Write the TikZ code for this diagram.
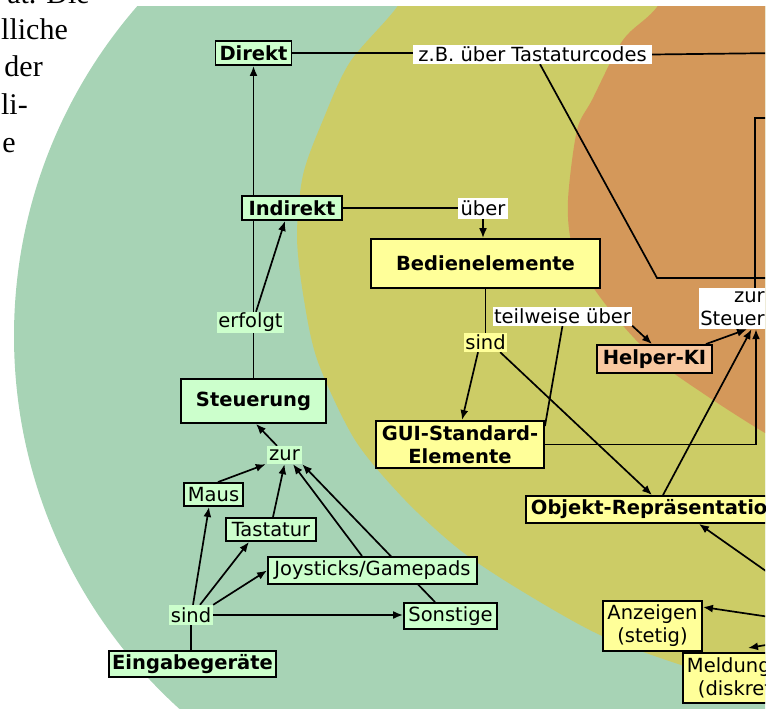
\documentclass[tikz,border=0pt]{standalone}
\usepackage{fontspec}
\newfontfamily\dv{DejaVu Sans}
\newfontfamily\pagefont{Liberation Serif}
\usetikzlibrary{arrows.meta,calc}
\definecolor{bggreen}{HTML}{A7D3B5}
\definecolor{bgyellow}{HTML}{CCCC66}
\definecolor{bgorange}{HTML}{D4985A}
\definecolor{ngreen}{HTML}{CCFFCC}
\definecolor{nyellow}{HTML}{FFFF99}
\definecolor{norange}{HTML}{F8C8A0}
\pgfdeclarelayer{back}
\pgfdeclarelayer{edges}
\pgfsetlayers{back,edges,main}
\tikzset{
  every node/.style={font=\dv\fontsize{19.5}{23}\selectfont, inner sep=0pt, text=black},
  sz/.style n args={2}{minimum width=#1pt, minimum height=#2pt},
  nbox/.style={draw=black, line width=1.9pt, align=center},
  gbox/.style={nbox, fill=ngreen},
  ybox/.style={nbox, fill=nyellow},
  obox/.style={nbox, fill=norange},
  lab/.style={align=center},
  conn/.style={draw=black, line width=1.7pt},
  arr/.style={conn, -{Latex[length=10pt,width=8pt]}},
  pagetext/.style={anchor=base east, font=\pagefont\fontsize{30}{30}\selectfont}
}
\begin{document}
\begin{tikzpicture}[x=1pt,y=-1pt]
\useasboundingbox (0,0) rectangle (779,709);
% background regions
\begin{pgfonlayer}{back}
\begin{scope}
\clip (0,7) rectangle (765,709);
\fill[bggreen] (517,336) circle[radius=503pt];
\fill[bgyellow] plot[smooth cycle] coordinates {(440,-60) (397,7) (350,62) (323,120) (303,175) (297,237) (304,300) (318,362) (355,440) (405,500) (460,550) (520,590) (600,635) (687,667) (765,690) (830,700) (900,500) (900,100) (800,-60)};
\fill[bgorange] plot[smooth cycle] coordinates {(700,-60) (657,7) (623,40) (592,100) (577,130) (568,200) (572,245) (593,287) (625,328) (660,363) (713,400) (765,433) (830,470) (900,300) (880,-60)};
\end{scope}
\end{pgfonlayer}
% page text fragments
\begin{scope}
\clip (0,0) rectangle (779,709);
\node[pagetext] (p1) at (90,4) {at. Die};
\node[pagetext] (p2) at (68,39.5) {lliche};
\node[pagetext] (p3) at (43,77) {der};
\node[pagetext] (p4) at (28,114.5) {li-};
\node[pagetext] (p5) at (16,152) {e};
\end{scope}
% nodes
\begin{scope}
\clip (0,7) rectangle (765,709);
\node[gbox, sz={76}{24}] (direkt) at (253.5,53) {\bfseries Direkt};
\node[gbox, sz={100}{24}] (indirekt) at (292,208) {\bfseries Indirekt};
\node[gbox, sz={145}{44}] (steuerung) at (253.5,401) {\bfseries Steuerung};
\node[gbox, sz={59}{23}] (maus) at (213.5,494.5) {Maus};
\node[gbox, sz={90}{23}] (tastatur) at (271,529.5) {Tastatur};
\node[gbox, sz={209}{27}] (joystick) at (372.5,570.5) {Joysticks/Gamepads};
\node[gbox, sz={93}{26}] (sonstige) at (450.5,616) {Sonstige};
\node[gbox, sz={167}{26}] (eingabe) at (192.5,664) {\bfseries Eingabegeräte};
\node[ybox, sz={229}{49}] (bedien) at (485.5,263.5) {\bfseries Bedienelemente};
\node[ybox, sz={168}{47}, font=\dv\bfseries\fontsize{19.5}{23}\selectfont] (gui) at (460,444.5) {GUI-Standard-\\Elemente};
\node[obox, sz={115}{28}] (helper) at (654.5,359) {\bfseries Helper-KI};
\node[ybox, anchor=west, text width=270pt, align=left, inner xsep=5pt, minimum height=27pt] (objekt) at (525,509.5) {\bfseries Objekt-Repräsentatio};
\node[ybox, sz={99}{50}] (anzeigen) at (652.5,626) {Anzeigen\\(stetig)};
\node[ybox, anchor=north west, text width=110pt, align=left, inner xsep=4pt, minimum height=50pt] (meldung) at (682,652) {Meldung\\\hspace*{11pt}(diskret};
% labels
\node[lab, fill=white, sz={239}{19}] (zb) at (532.5,54.5) {z.B. über Tastaturcodes};
\node[lab, fill=white, sz={50}{21}] (ueber) at (483,208.5) {über};
\node[lab, fill=ngreen, sz={67}{21}] (erfolgt) at (250.5,322.5) {erfolgt};
\node[lab, fill=ngreen, sz={35}{18}] (zur) at (284.5,455) {zur};
\node[lab, fill=ngreen, sz={44}{20}] (sindg) at (191,615) {sind};
\node[lab, fill=nyellow, sz={43}{19}] (sindy) at (485.5,342.5) {sind};
\node[lab, fill=white, sz={139}{19}] (teilweise) at (562.5,316) {teilweise über};
\node[fill=white, align=right, sz={67}{41}] (zursteuer) at (732.5,308.5) {zur\\Steuer};
\end{scope}
% free ends
\coordinate (zbR) at (780,53);
\coordinate (k1) at (657,278);
\coordinate (k2) at (780,278);
\coordinate (topR) at (780,118);
\coordinate (inO) at (790,588);
\coordinate (inA) at (790,620);
\coordinate (inM) at (790,641);
% connectors
\begin{pgfonlayer}{edges}
\begin{scope}
\clip (0,7) rectangle (765,709);
\draw[conn] (direkt.east) -- (direkt.east -| zb.west);
\draw[conn] (zb.east) -- (zbR);
\draw[conn] ([xshift=7.5pt]zb.south) -- (k1) -- (k2);
\draw[conn] (indirekt.east) -- (indirekt.east -| ueber.west);
\draw[arr] (ueber.south) -- (ueber.south |- bedien.north);
\draw[conn] (steuerung.north) -- (steuerung.north |- erfolgt.south);
\draw[arr] (steuerung.north |- erfolgt.north) -- (direkt.south);
\draw[arr] ([xshift=5.5pt]erfolgt.north) -- ([xshift=-7pt]indirekt.south);
\draw[arr] ([xshift=-7.5pt]zur.north) -- ([xshift=2.5pt]steuerung.south);
\draw[arr] ([xshift=4.5pt]maus.north) -- ([xshift=-1pt]zur.south west);
\draw[arr] ([xshift=2pt]tastatur.north) -- (zur.south);
\draw[arr] ([xshift=-10.5pt]joystick.north) -- ([xshift=8.5pt]zur.south);
\draw[arr] ([xshift=-15.5pt]sonstige.north) -- (zur.south east);
\draw[conn] (sindg.south) -- (sindg.south |- eingabe.north);
\draw[arr] ([xshift=2pt]sindg.north) -- ([xshift=-4.5pt]maus.south);
\draw[arr] ([xshift=9pt]sindg.north) -- ([xshift=-22pt]tastatur.south);
\draw[arr] (sindg.north east) -- (joystick.west);
\draw[arr] (sindg.east) -- (sindg.east -| sonstige.west);
\draw[conn] (bedien.south) -- (bedien.south |- sindy.north);
\draw[arr] ([xshift=-7.5pt]sindy.south) -- ([xshift=2pt]gui.north);
\draw[arr] ([xshift=-7pt]sindy.south east) -- ([xshift=127pt]objekt.north west);
\draw[conn] ([yshift=-6pt]gui.north east) -- (teilweise.south);
\draw[arr] (teilweise.south east) -- ([xshift=-2.5pt]helper.north);
\draw[arr] ([xshift=-7pt]helper.north east) -- ([xshift=14.5pt]zursteuer.south);
\draw[arr] (gui.east) -| ([xshift=23.5pt]zursteuer.south);
\draw[arr] ([xshift=138pt]objekt.north west) -- ([xshift=19pt]zursteuer.south);
\draw[conn] ([xshift=22.5pt]zursteuer.north) |- (topR);
\draw[arr] (inO) -- ([xshift=174pt]objekt.south west);
\draw[arr] (inA) -- ([yshift=-7pt]anzeigen.north east);
\draw[arr] (inM) -- ([xshift=66pt,yshift=4pt]meldung.north west);
\end{scope}
\end{pgfonlayer}
\end{tikzpicture}
\end{document}
